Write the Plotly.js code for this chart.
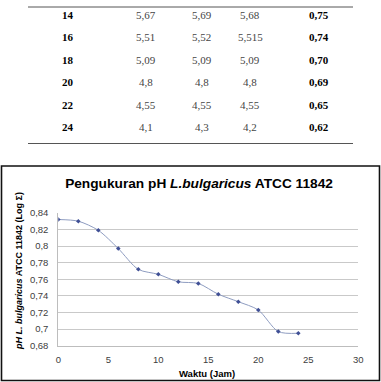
<!DOCTYPE html>
<html>
<head>
<meta charset="utf-8">
<script src="https://cdn.plot.ly/plotly-3.0.1.min.js"></script>
<style>
html,body{margin:0;padding:0;background:#fff;}
#chart{width:381px;height:382px;}
</style>
</head>
<body>
<div id="chart"></div>
<script>
// ---- table data ----
var jam = ["14", "16", "18", "20", "22", "24"];
var ulangan1 = ["5,67", "5,51", "5,09", "4,8", "4,55", "4,1"];
var ulangan2 = ["5,69", "5,52", "5,09", "4,8", "4,55", "4,3"];
var rataRata = ["5,68", "5,515", "5,09", "4,8", "4,55", "4,2"];
var logValue = ["0,75", "0,74", "0,70", "0,69", "0,65", "0,62"];

// ---- chart data ----
var waktu = [0, 2, 4, 6, 8, 10, 12, 14, 16, 18, 20, 22, 24];
var phLog = [0.832, 0.830, 0.819, 0.797, 0.772, 0.766, 0.757, 0.755, 0.742, 0.733, 0.723, 0.697, 0.695];

var chartTitle = "Pengukuran pH <i>L.bulgaricus</i> ATCC 11842";
var xTitle = "Waktu (Jam)";
var yTitle = "<i>pH L. bulgaricus</i> ATCC 11842 (Log Σ)";

// ---- layout helpers (pixels) ----
var W = 381, H = 382;
function px(x){ return x / W; }
function py(y){ return 1 - y / H; }

var tableCols = [
  {vals: jam, x: 67.7, bold: true},
  {vals: ulangan1, x: 145.7, bold: false},
  {vals: ulangan2, x: 201.7, bold: false},
  {vals: rataRata, x: 250, bold: false},
  {vals: logValue, x: 319, bold: true}
];
var rowY0 = 14.7, rowStep = 22.47;

var annotations = [];
tableCols.forEach(function(col){
  col.vals.forEach(function(v, i){
    annotations.push({
      xref: 'paper', yref: 'paper',
      x: px(col.x), y: py(rowY0 + i * rowStep),
      xanchor: 'center', yanchor: 'middle',
      text: col.bold ? '<b>' + v + '</b>' : v,
      showarrow: false,
      font: {family: 'Liberation Serif, Times New Roman, serif', size: 11, color: col.bold ? '#000' : '#444'}
    });
  });
});

annotations.push({
  xref: 'paper', yref: 'paper', x: px(19), y: py(271),
  xanchor: 'center', yanchor: 'middle', textangle: -90,
  text: '<b>' + yTitle + '</b>', showarrow: false,
  font: {family: 'Liberation Sans, Arial, sans-serif', size: 9, color: '#000'}
});
annotations.push({
  xref: 'paper', yref: 'paper', x: px(207.5), y: py(373),
  xanchor: 'center', yanchor: 'middle',
  text: '<b>' + xTitle + '</b>', showarrow: false,
  font: {family: 'Liberation Sans, Arial, sans-serif', size: 9.5, color: '#000'}
});

var shapes = [
  {type: 'line', xref: 'paper', yref: 'paper', x0: px(28), x1: px(353), y0: py(7), y1: py(7), line: {color: '#555', width: 1}},
  {type: 'line', xref: 'paper', yref: 'paper', x0: px(28), x1: px(353), y0: py(143.5), y1: py(143.5), line: {color: '#555', width: 1}},
  {type: 'rect', xref: 'paper', yref: 'paper', x0: px(1.5), x1: px(379.5), y0: py(380.5), y1: py(166), line: {color: '#111', width: 1.6}}
];

var trace = {
  x: waktu, y: phLog,
  type: 'scatter', mode: 'lines+markers',
  line: {shape: 'spline', smoothing: 0.8, color: '#8e9cc0', width: 1},
  marker: {symbol: 'diamond', size: 3.5, color: '#3f4f95'},
  hoverinfo: 'skip'
};

var layout = {
  width: W, height: H,
  margin: {l: 0, r: 0, t: 0, b: 0},
  paper_bgcolor: '#fff', plot_bgcolor: '#fff',
  separators: ',.',
  showlegend: false,
  title: {
    text: '<b>' + chartTitle + '</b>',
    x: px(199), xanchor: 'center', xref: 'paper',
    y: py(183.5), yanchor: 'middle', yref: 'paper',
    font: {family: 'Liberation Sans, Arial, sans-serif', size: 13.7, color: '#000'}
  },
  xaxis: {
    domain: [px(58.3), px(358.3)],
    anchor: 'y',
    range: [0, 30], dtick: 5, tick0: 0,
    showgrid: false, zeroline: false,
    showline: true, linecolor: '#bdbdbd', linewidth: 1,
    ticks: '', ticklabelstandoff: 5,
    tickfont: {family: 'Liberation Sans, Arial, sans-serif', size: 9.5, color: '#404040'}
  },
  yaxis: {
    domain: [py(345.7), py(212.9)],
    anchor: 'x',
    range: [0.68, 0.84], dtick: 0.02, tick0: 0.68,
    showgrid: true, gridcolor: '#c9c9c9', gridwidth: 1,
    zeroline: false,
    showline: true, linecolor: '#bdbdbd', linewidth: 1,
    ticks: '', ticklabelstandoff: 7,
    tickfont: {family: 'Liberation Sans, Arial, sans-serif', size: 9.5, color: '#404040'}
  },
  annotations: annotations,
  shapes: shapes
};

Plotly.newPlot('chart', [trace], layout, {staticPlot: true, displayModeBar: false});
</script>
</body>
</html>
